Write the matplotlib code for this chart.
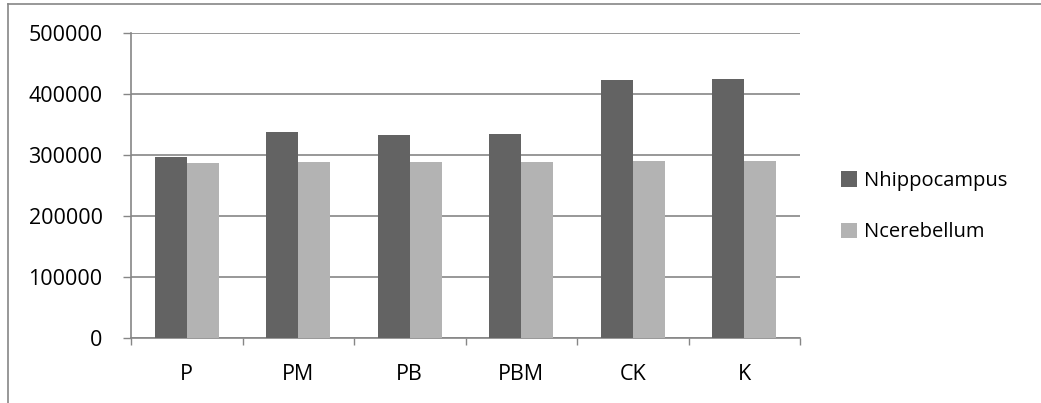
import matplotlib
matplotlib.use("Agg")
import matplotlib.pyplot as plt
import numpy as np
from matplotlib.lines import Line2D

categories = ["P", "PM", "PB", "PBM", "CK", "K"]
nhippocampus = [296200, 338200, 333300, 335000, 423500, 423800]
ncerebellum = [287400, 288500, 288500, 288500, 290700, 289700]
series_names = ["Nhippocampus", "Ncerebellum"]
yticks = [0, 100000, 200000, 300000, 400000, 500000]

plt.rcParams['font.family'] = ['Open Sans', 'DejaVu Sans']
FS = 15.5

W, H = 1041, 403
fig = plt.figure(figsize=(W / 100, H / 100), dpi=100)
ax = fig.add_axes([131 / W, (H - 338) / H, (800 - 131) / W, (338 - 33) / H])

x = np.arange(len(categories))
bw = 1 / 3.5
ax.bar(x - bw / 2, nhippocampus, width=bw, color="#636363", label=series_names[0], zorder=3)
ax.bar(x + bw / 2, ncerebellum, width=bw, color="#b3b3b3", label=series_names[1], zorder=3)

ax.set_xlim(-0.5, len(categories) - 0.5)
ax.set_ylim(0, 500000)
ax.set_yticks(yticks)
ax.set_yticklabels([str(v) for v in yticks], fontsize=FS)
ax.set_xticks(np.arange(-0.5, len(categories), 1.0), minor=False)
ax.set_xticklabels([])
ax.set_xticks(x, minor=True)
ax.set_xticklabels(categories, minor=True, fontsize=FS)
ax.tick_params(axis='x', which='minor', length=0, pad=19)
ax.tick_params(axis='x', which='major', length=5, color="#868686", width=1)
ax.tick_params(axis='y', length=5.5, color="#868686", width=1, pad=15)

ax.grid(axis='y', color="#868686", linewidth=1.2, zorder=0)
for s in ['top', 'right']:
    ax.spines[s].set_visible(False)
for s in ['left', 'bottom']:
    ax.spines[s].set_color("#868686")
    ax.spines[s].set_linewidth(1.2)

leg = fig.legend(loc='upper left', bbox_to_anchor=(833 / W, 1 - 163 / H), frameon=False,
                 fontsize=14.5, handlelength=0.8, handleheight=0.8, handletextpad=0.35,
                 labelspacing=1.55, borderaxespad=0)

fig.lines.append(Line2D([7.5 / W, 7.5 / W], [0, 1 - 4 / H], transform=fig.transFigure,
                        color="#868686", linewidth=1.2))
fig.lines.append(Line2D([7.5 / W, 1], [1 - 4 / H, 1 - 4 / H], transform=fig.transFigure,
                        color="#868686", linewidth=1.2))

fig.savefig("out.png", dpi=100)
